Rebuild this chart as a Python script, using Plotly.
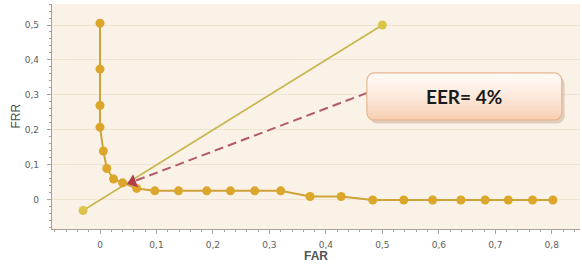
import numpy as np
import plotly.graph_objects as go

# ---- data ----
far = [0, 0, 0, 0, 0.006, 0.012, 0.024, 0.040, 0.065, 0.097, 0.139, 0.189, 0.231,
       0.274, 0.320, 0.372, 0.427, 0.483, 0.538, 0.589, 0.639, 0.682, 0.723, 0.766, 0.802]
frr = [0.505, 0.374, 0.270, 0.208, 0.140, 0.090, 0.060, 0.049, 0.033, 0.026, 0.026, 0.026, 0.026,
       0.026, 0.026, 0.010, 0.010, 0, 0, 0, 0, 0, 0, 0, 0]
diag_x = [-0.03, 0.5]
diag_y = [-0.03, 0.5]
eer_point = (0.058, 0.052)
eer_label = "EER= 4%"
x_title = "FAR"
y_title = "FRR"
x_ticks = [0, 0.1, 0.2, 0.3, 0.4, 0.5, 0.6, 0.7, 0.8]
y_ticks = [0, 0.1, 0.2, 0.3, 0.4, 0.5]

XR = [-0.085, 0.85]
YR = [-0.083, 0.56]

fig = go.Figure()

# diagonal reference line
fig.add_trace(go.Scatter(x=diag_x, y=diag_y, mode="lines+markers",
                         line=dict(color="#c8b54e", width=1.6),
                         marker=dict(size=9, color="#dcc34c"),
                         hoverinfo="skip"))

# EER arrow (dashed line + triangle head)
box_left = (0.473, 0.306)
fig.add_trace(go.Scatter(x=[box_left[0], eer_point[0]], y=[box_left[1], eer_point[1]],
                         mode="lines", line=dict(color="#b35a6a", width=2, dash="9px,5px"),
                         hoverinfo="skip"))

# main DET curve
fig.add_trace(go.Scatter(x=far, y=frr, mode="lines+markers",
                         line=dict(color="#cfa33a", width=2),
                         marker=dict(size=9, color="#dba62a"),
                         hoverinfo="skip"))

fig.add_trace(go.Scatter(x=[eer_point[0]], y=[eer_point[1]], mode="markers",
                         marker=dict(symbol="triangle-left", size=12, color="#b13e4c", angle=-21),
                         hoverinfo="skip"))

# annotation box (rounded, gradient)
bx0, bx1, by0, by1 = 0.4726, 0.8177, 0.2286, 0.3629
rx, ry = 0.012, 0.022
def rounded(x0, x1, y0, y1, rx, ry, n=8):
    xs, ys = [], []
    corners = [(x1 - rx, y1 - ry, 0, 90), (x0 + rx, y1 - ry, 90, 180),
               (x0 + rx, y0 + ry, 180, 270), (x1 - rx, y0 + ry, 270, 360)]
    for cx, cy, a0, a1 in corners:
        t = np.radians(np.linspace(a0, a1, n))
        xs += list(cx + rx * np.cos(t))
        ys += list(cy + ry * np.sin(t))
    xs.append(xs[0]); ys.append(ys[0])
    return xs, ys

sx, sy = rounded(bx0 + 0.005, bx1 + 0.005, by0 - 0.010, by1 - 0.010, rx, ry)
fig.add_trace(go.Scatter(x=sx, y=sy, mode="lines", fill="toself",
                         fillcolor="rgba(170,120,90,0.30)", line=dict(width=0),
                         hoverinfo="skip"))
px, py = rounded(bx0, bx1, by0, by1, rx, ry)
fig.add_trace(go.Scatter(x=px, y=py, mode="lines", fill="toself",
                         fillgradient=dict(type="vertical",
                                           colorscale=[[0, "#f7cfb2"], [0.5, "#fde9dc"], [1, "#fffbf8"]]),
                         line=dict(color="#e8b792", width=1.2),
                         hoverinfo="skip"))

fig.add_annotation(x=(bx0 + bx1) / 2, y=(by0 + by1) / 2, text=eer_label, showarrow=False,
                   font=dict(family="Lato", size=19, color="#1a1a1a", weight="bold"))

# axis titles
fig.add_annotation(xref="paper", yref="paper", x=-0.070, y=0.50, xanchor="center", yanchor="middle",
                   text=y_title, textangle=-90, showarrow=False,
                   font=dict(family="Liberation Sans", size=12, color="#4a4a4a"))
fig.add_annotation(xref="paper", yref="paper", x=0.5, y=-0.118, xanchor="center", yanchor="middle",
                   text=x_title, showarrow=False,
                   font=dict(family="Liberation Sans", size=12, color="#555555", weight="bold"))

axis_common = dict(showline=True, linecolor="#a8a294", linewidth=1.2,
                   ticks="outside", ticklen=4, tickcolor="#a8a294",
                   tickfont=dict(family="DejaVu Sans", size=9, color="#5e5e5e"),
                   zeroline=False, automargin=False,
                   minor=dict(ticks="outside", ticklen=2, tickcolor="#a8a294", dtick=0.02, showgrid=False))

fig.update_xaxes(range=XR, tickvals=x_ticks, ticktext=[("%g" % v).replace(".", ",") for v in x_ticks],
                 showgrid=False, ticklabelstandoff=3, **axis_common)
fig.update_yaxes(range=YR, tickvals=y_ticks, ticktext=[("%g" % v).replace(".", ",") for v in y_ticks],
                 showgrid=True, gridcolor="#efe4d2", gridwidth=1, ticklabelstandoff=6,
                 **axis_common)

fig.update_layout(width=582, height=264, margin=dict(l=52, r=2, t=4, b=35),
                  paper_bgcolor="white", plot_bgcolor="#faf2e6",
                  showlegend=False, hovermode=False)

fig.write_html("out.html", config={"displayModeBar": False},
               post_script="document.body.style.margin='0';document.body.style.overflow='hidden';")
